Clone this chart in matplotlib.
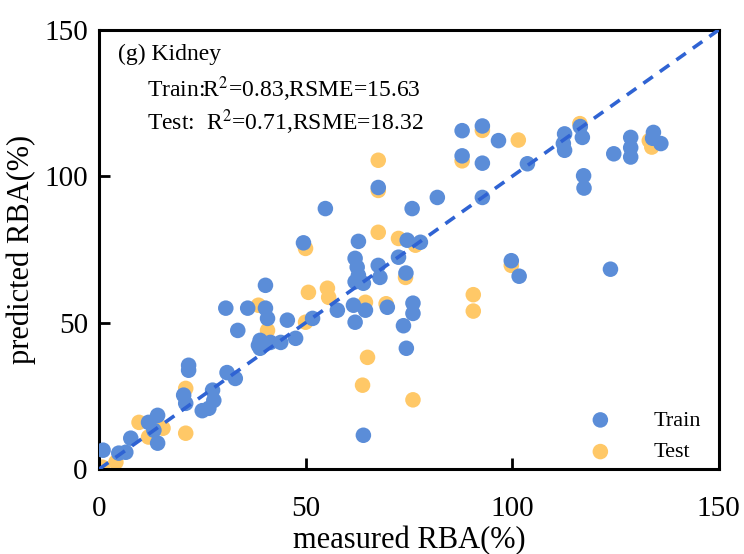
import matplotlib
matplotlib.use("Agg")
import matplotlib.pyplot as plt

plt.rcParams['font.family'] = ['Liberation Serif', 'DejaVu Serif']
plt.rcParams['mathtext.fontset'] = 'stix'

# measured vs predicted RBA (%)
train_x = [1, 4.8, 6.5, 7.7, 12, 14.2, 13.3, 14.2, 21.7, 21.7, 20.5, 21, 25, 27.5,
           27.8, 26.6, 31, 33, 38.6, 39, 39, 41.5, 44, 47.6, 40.3, 36, 30.7, 40.3,
           40.8, 45.6, 33.6, 51.7, 57.7, 49.5, 54.8, 62, 62.5, 62.8, 62, 67.6, 68,
           72.5, 74.3, 61.6, 64.5, 62, 69.8, 73.7, 74.4, 62.8, 67.6, 75.8, 81.9,
           92.8, 74.6, 77.8, 76, 76, 64, 87.9, 92.8, 96.7, 87.9, 92.8, 103.7,
           112.7, 112.4, 112.7, 116.5, 117, 117.3, 117.4, 124.6, 128.7, 128.7,
           128.7, 134.2, 134, 136, 99.8, 101.7, 123.8, 64]
train_y = [6.5, 5.5, 5.8, 10.6, 16, 18.4, 13.3, 8.9, 35.5, 33.8, 25.3, 22.5, 20, 27,
           23.5, 20.8, 33, 31, 42.3, 44, 41.3, 43.3, 43.3, 44.7, 62.8, 55, 55, 55,
           51.5, 50.9, 47.4, 51.5, 54.3, 77.3, 89, 72, 69, 66.2, 64, 69.6, 65.5,
           72.4, 67, 56, 54.3, 50.2, 55.3, 49, 41.3, 77.8, 96.2, 89, 92.8, 92.8,
           78.2, 77.5, 56.7, 53.2, 11.6, 115.6, 117.2, 112.2, 107, 104.5, 104.3,
           114.5, 111.2, 108.9, 117, 113.3, 100.2, 96, 107.7, 113.3, 109.8, 106.6,
           115, 113, 111.2, 71.2, 65.9, 68.3, 63.5]

test_x = [0.8, 4.1, 9.7, 15.5, 12, 21, 21, 50, 50.7, 55.3, 55.6, 38.6, 40.8, 50,
          64.5, 65, 67.6, 67.6, 67.6, 72.5, 76.6, 74.2, 90.6, 90.6, 99.8, 63.8, 76,
          87.9, 92.8, 101.5, 116.4, 133.2, 133.8, 69.5]
test_y = [0.7, 2.4, 16, 14, 11, 27.6, 12.3, 75.4, 60.4, 61.8, 58.7, 56, 47.4, 50.2,
          57, 38.2, 105.5, 95.2, 80.9, 78.8, 76.5, 65.5, 59.6, 54, 69.6, 28.7, 23.7,
          105.3, 115.7, 112.4, 118, 112.2, 110, 56.5]

blue = '#5B8DD8'
orange = '#FFC867'

fig = plt.figure(figsize=(7.44, 5.54), dpi=100)
ax = fig.add_axes([0.133, 0.153, 0.833, 0.793])

h2 = ax.scatter(test_x, test_y, s=125, color=orange, edgecolors='none', label='Test', zorder=2)
h1 = ax.scatter(train_x, train_y, s=125, color=blue, edgecolors='none', label='Train', zorder=3)
ax.plot([0, 150], [0, 150], linestyle=(0, (3.2, 2.4)), color='#2F63D3', lw=2.6, zorder=4)

ax.set_xlim(0, 150)
ax.set_ylim(0, 150)
ax.set_xticks([0, 50, 100, 150])
ax.set_yticks([0, 50, 100, 150])
ax.tick_params(direction='in', length=8, width=2, labelsize=21)
ax.tick_params(axis='x', pad=19)
ax.tick_params(axis='y', pad=8)
for sp in ax.spines.values():
    sp.set_linewidth(2.2)

ax.set_xlabel('measured RBA(%)', fontsize=22, labelpad=3)
ax.set_ylabel('predicted RBA(%)', fontsize=22, labelpad=6)

ax.text(0.03, 0.944, '(g) Kidney', transform=ax.transAxes, fontsize=17, va='center')
ax.text(0.078, 0.866, 'Train:R$^2$=0.83,RSME=15.63', transform=ax.transAxes, fontsize=17, va='center')
ax.text(0.078, 0.791, 'Test:  R$^2$=0.71,RSME=18.32', transform=ax.transAxes, fontsize=17, va='center')

ax.legend(handles=[h1, h2], loc='lower right', bbox_to_anchor=(1.004, -0.03), frameon=False,
          fontsize=16, handletextpad=1.4, labelspacing=0.5)

fig.savefig('out.png', dpi=100)
